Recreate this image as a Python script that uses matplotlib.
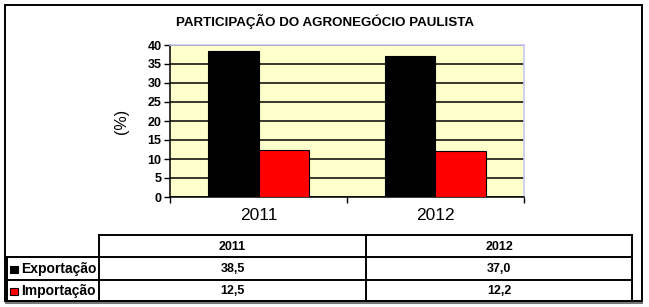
import matplotlib
matplotlib.use("Agg")
import matplotlib.pyplot as plt
from matplotlib.patches import Rectangle

title = "PARTICIPAÇÃO DO AGRONEGÓCIO PAULISTA"
years = ["2011", "2012"]
series_names = ["Exportação", "Importação"]
exportacao = [38.5, 37.0]
importacao = [12.5, 12.2]
value_labels = [["38,5", "37,0"], ["12,5", "12,2"]]
series_colors = ["#000000", "#ff0000"]
yticks = [0, 5, 10, 15, 20, 25, 30, 35, 40]

W, H = 649, 307
fig = plt.figure(figsize=(W / 100, H / 100), dpi=100)
fig.patch.set_facecolor("white")

arial = ["Liberation Sans", "DejaVu Sans"]

# main axes
L, R, T, B = 170, 524, 45, 197
ax = fig.add_axes([L / W, 1 - B / H, (R - L) / W, (B - T) / H])
ax.set_facecolor("#ffffcc")
bw = 0.288
x = range(len(years))
ax.bar([i - bw / 2 for i in x], exportacao, width=bw, color=series_colors[0],
       edgecolor="black", linewidth=0.8, zorder=3)
ax.bar([i + bw / 2 for i in x], importacao, width=bw, color=series_colors[1],
       edgecolor="black", linewidth=0.8, zorder=3)
ax.set_xlim(-0.5, len(years) - 0.5)
ax.set_ylim(0, 40)
ax.set_yticks(yticks)
ax.set_yticklabels([str(v) for v in yticks], fontfamily=arial, fontweight="bold", fontsize=9)
ax.set_xticks([i - 0.5 for i in range(len(years) + 1)])
ax.set_xticklabels([])
ax.set_xticks(list(x), minor=True)
ax.set_xticklabels(years, minor=True, fontfamily=arial, fontsize=12.5)
ax.tick_params(axis="x", which="minor", length=0, pad=8)
ax.tick_params(axis="x", which="major", length=4, width=1, color="black")
ax.tick_params(axis="y", length=4, width=1, color="black", pad=2)
ax.yaxis.grid(True, color="black", linewidth=1.1)
ax.set_axisbelow(True)
for s in ["left", "bottom"]:
    ax.spines[s].set_color("black")
    ax.spines[s].set_linewidth(1.1)
for s in ["top", "right"]:
    ax.spines[s].set_color("#c8c8f4")
    ax.spines[s].set_linewidth(1.2)
ax.set_ylabel("(%)", fontfamily=arial, fontsize=11.5, labelpad=7)
ax.yaxis.set_label_coords(-0.115, 0.5)

# overlay for frame, title and table
ov = fig.add_axes([0, 0, 1, 1], zorder=5)
ov.set_xlim(0, W)
ov.set_ylim(H, 0)
ov.axis("off")
ov.patch.set_alpha(0)

lw = 1.4
ov.add_patch(Rectangle((5, 5), 637, 296, fill=False, edgecolor="black", linewidth=lw))
ov.plot([6, 642], [302.5, 302.5], color="#777777", linewidth=1.5)

ov.text(325, 21, title, ha="center", va="center", fontfamily=arial,
        fontweight="bold", fontsize=9.6)

# table
xs = [7, 99, 366, 632]
ys = [235, 257, 280, 301]
ov.plot([xs[1], xs[3]], [ys[0], ys[0]], color="black", linewidth=lw)
for yy in ys[1:]:
    ov.plot([xs[0], xs[3]], [yy, yy], color="black", linewidth=lw)
ov.plot([xs[0], xs[0]], [ys[1], ys[3]], color="black", linewidth=lw)
for xx in xs[1:]:
    ov.plot([xx, xx], [ys[0], ys[3]], color="black", linewidth=lw)

for j, yr in enumerate(years):
    ov.text((xs[j + 1] + xs[j + 2]) / 2, (ys[0] + ys[1]) / 2 + 1, yr, ha="center", va="center",
            fontfamily=arial, fontweight="bold", fontsize=9)
for i, name in enumerate(series_names):
    yc = (ys[i + 1] + ys[i + 2]) / 2 + 1
    ov.add_patch(Rectangle((10, yc - 4), 7.5, 7.5, facecolor=series_colors[i],
                           edgecolor="black", linewidth=0.8))
    ov.text(21, yc, name, ha="left", va="center", fontfamily=arial,
            fontweight="bold", fontsize=10)
    for j in range(len(years)):
        ov.text((xs[j + 1] + xs[j + 2]) / 2, yc, value_labels[i][j], ha="center", va="center",
                fontfamily=arial, fontweight="bold", fontsize=9)

fig.savefig("out.png", dpi=100, facecolor="white")
